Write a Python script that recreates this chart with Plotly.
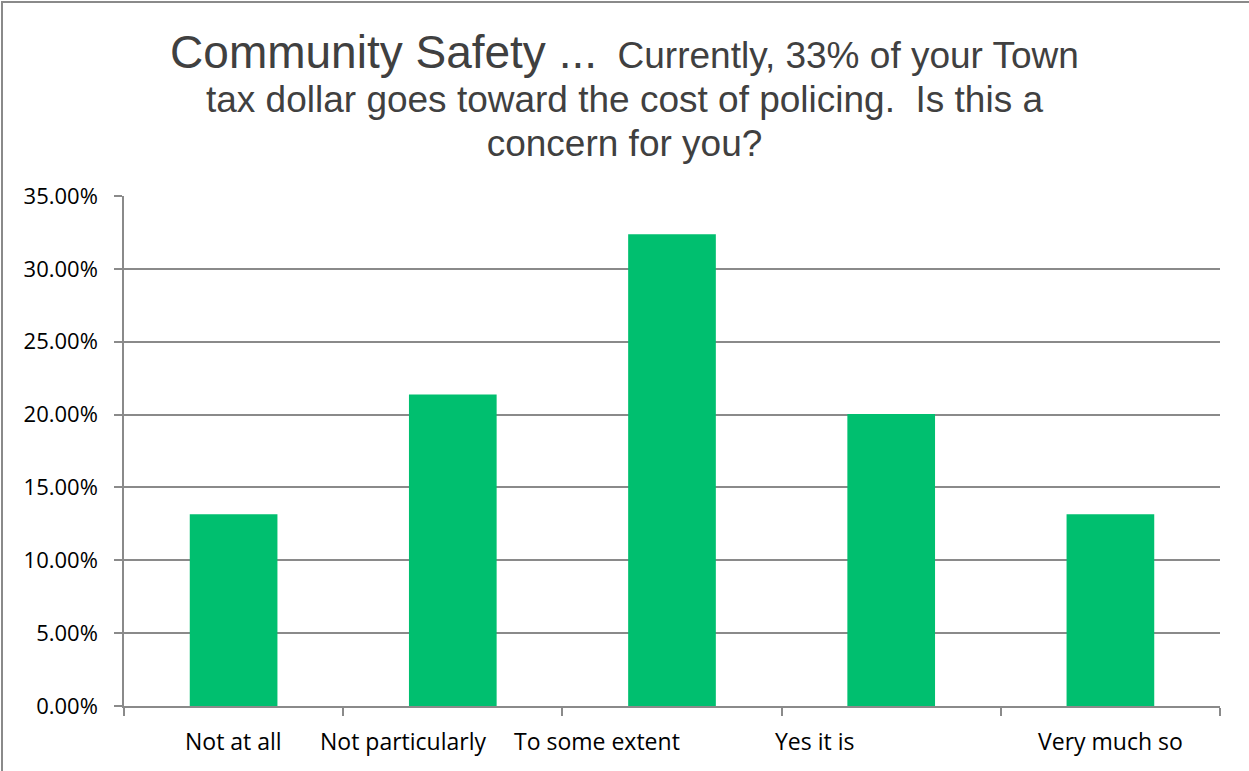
import plotly.graph_objects as go

# Survey responses (share of respondents)
categories = ["Not at all", "Not particularly", "To some extent", "Yes it is", "Very much so"]
shares = [0.1316, 0.2138, 0.3237, 0.2004, 0.1316]
y_ticks = [0.0, 0.05, 0.10, 0.15, 0.20, 0.25, 0.30, 0.35]

# horizontal nudge (px) for each category label under the axis
label_shift = [0, -50, -75, -77, 0]

W, H = 1249, 771
L, R, T, B = 124, 29, 196, 65
plot_w = W - L - R
plot_h = H - T - B

GRID = "#8a8a8a"
GREEN = "#00bf6f"

fig = go.Figure(
    go.Bar(
        x=categories,
        y=shares,
        width=0.4,
        marker=dict(color=GREEN, line=dict(width=0)),
        hoverinfo="skip",
    )
)

for cat, shift in zip(categories, label_shift):
    fig.add_annotation(
        x=cat, y=0, xref="x", yref="y",
        text=cat, showarrow=False,
        yanchor="middle", xanchor="center",
        yshift=-35, xshift=shift,
        font=dict(family="Open Sans", size=23, color="#000000"),
    )

# frame around the whole chart
fig.add_shape(
    type="rect", xref="paper", yref="paper",
    x0=(2 - L) / plot_w, x1=1.2,
    y0=-0.5, y1=(H - B - 2) / plot_h,
    line=dict(color="#8a8a8a", width=2),
    fillcolor="rgba(0,0,0,0)", layer="below",
)

title_text = (
    "<span style='font-size:46px'>Community Safety ...</span>"
    "<span style='font-size:37px'>\u00a0 Currently, 33% of your Town</span><br>"
    "<span style='font-size:37px'>tax dollar goes toward the cost of policing.\u00a0 Is this a</span><br>"
    "<span style='font-size:37px'>concern for you?</span>"
)

fig.update_layout(
    width=W, height=H,
    margin=dict(l=L, r=R, t=T, b=B, pad=0),
    paper_bgcolor="white", plot_bgcolor="white",
    showlegend=False,
    title=dict(
        text=title_text,
        x=0.5, xref="container", xanchor="center",
        y=1 - 68 / H, yref="container", yanchor="top",
        font=dict(family="Liberation Sans, Arial", size=34, color="#404040"),
    ),
    xaxis=dict(
        type="category",
        showticklabels=False,
        ticks="outside", ticklen=8, tickwidth=1.5, tickcolor=GRID,
        tickson="boundaries",
        showline=True, linecolor=GRID, linewidth=1.5,
        showgrid=False, zeroline=False,
        fixedrange=True,
    ),
    yaxis=dict(
        range=[0, 0.35],
        tickvals=y_ticks,
        tickformat=".2%",
        ticks="outside", ticklen=8, tickwidth=1.5, tickcolor=GRID,
        ticklabelstandoff=12,
        showline=True, linecolor=GRID, linewidth=1.5,
        showgrid=True, gridcolor=GRID, gridwidth=1.5,
        zeroline=False,
        tickfont=dict(family="Open Sans", size=22, color="#000000"),
        fixedrange=True,
    ),
)

fig.write_html("out.html", config={"displayModeBar": False})
